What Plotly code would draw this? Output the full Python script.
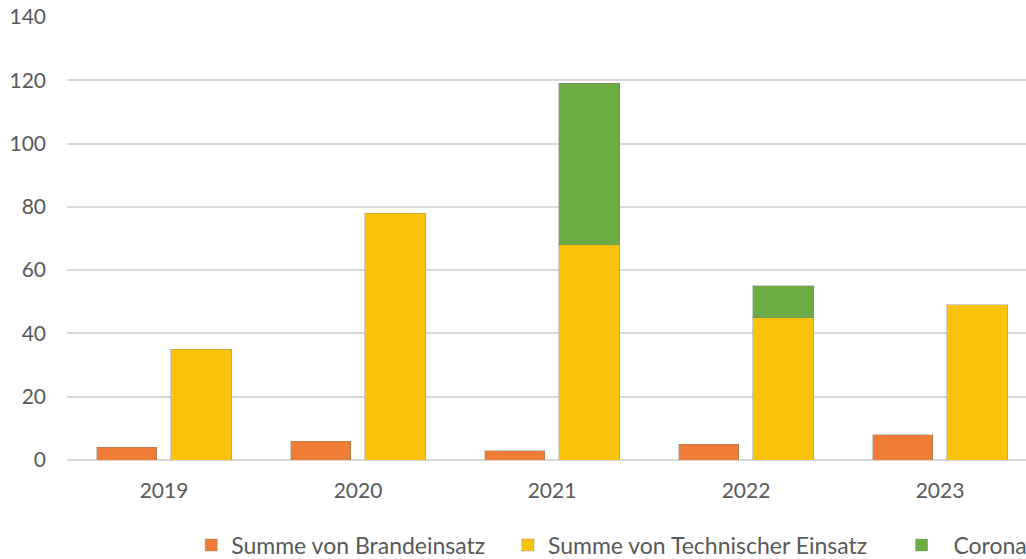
import plotly.graph_objects as go

years = ["2019", "2020", "2021", "2022", "2023"]
brand = [4, 6, 3, 5, 8]
technisch = [35, 78, 68, 45, 49]
corona = [0, 0, 51, 10, 0]
y_ticks = [0, 20, 40, 60, 80, 100, 120, 140]

idx = list(range(len(years)))
x_brand = [i - 0.192 for i in idx]
x_tech = [i + 0.192 for i in idx]
corona_x = [x for x, c in zip(x_tech, corona) if c > 0]
corona_y = [c for c in corona if c > 0]

font_family = "Lato, 'Open Sans', 'DejaVu Sans', sans-serif"
txt = "#595959"
edge = dict(width=1, color="rgba(120,120,120,0.35)")
nb = "\u00a0"

fig = go.Figure()
fig.add_trace(go.Bar(x=x_brand, y=brand, width=0.31, name="Summe von Brandeinsatz" + nb * 3,
                     marker=dict(color="#F07D35", line=edge)))
fig.add_trace(go.Bar(x=x_tech, y=technisch, width=0.315,
                     name="Summe von Technischer Einsatz" + nb * 5,
                     marker=dict(color="#FBC20A", line=edge)))
fig.add_trace(go.Bar(x=corona_x, y=corona_y, width=0.315,
                     name=nb * 2 + "Corona",
                     marker=dict(color="#6DAB45", line=edge)))

fig.update_layout(
    width=1026, height=559,
    margin=dict(l=67, r=0, t=17, b=99, autoexpand=False),
    barmode="stack",
    plot_bgcolor="white", paper_bgcolor="white",
    font=dict(family=font_family, size=21, color=txt),
    showlegend=True,
    legend=dict(orientation="h", x=0.568, xanchor="center", y=-0.192, yanchor="middle",
                font=dict(size=23, color=txt), itemwidth=30, traceorder="normal"),
    xaxis=dict(range=[-0.5, 4.443], tickmode="array", tickvals=idx, ticktext=years,
               showgrid=False, zeroline=False, showline=False, ticks="",
               ticklabelstandoff=16, tickfont=dict(size=21, color=txt)),
    yaxis=dict(range=[0, 140], tickmode="array", tickvals=y_ticks,
               showgrid=True, gridcolor="#D9D9D9", gridwidth=1.5,
               zeroline=True, zerolinecolor="#D9D9D9", zerolinewidth=2,
               showline=False, ticks="", ticklabelstandoff=20,
               tickfont=dict(size=21, color=txt)),
)

fig.write_html("out.html")
